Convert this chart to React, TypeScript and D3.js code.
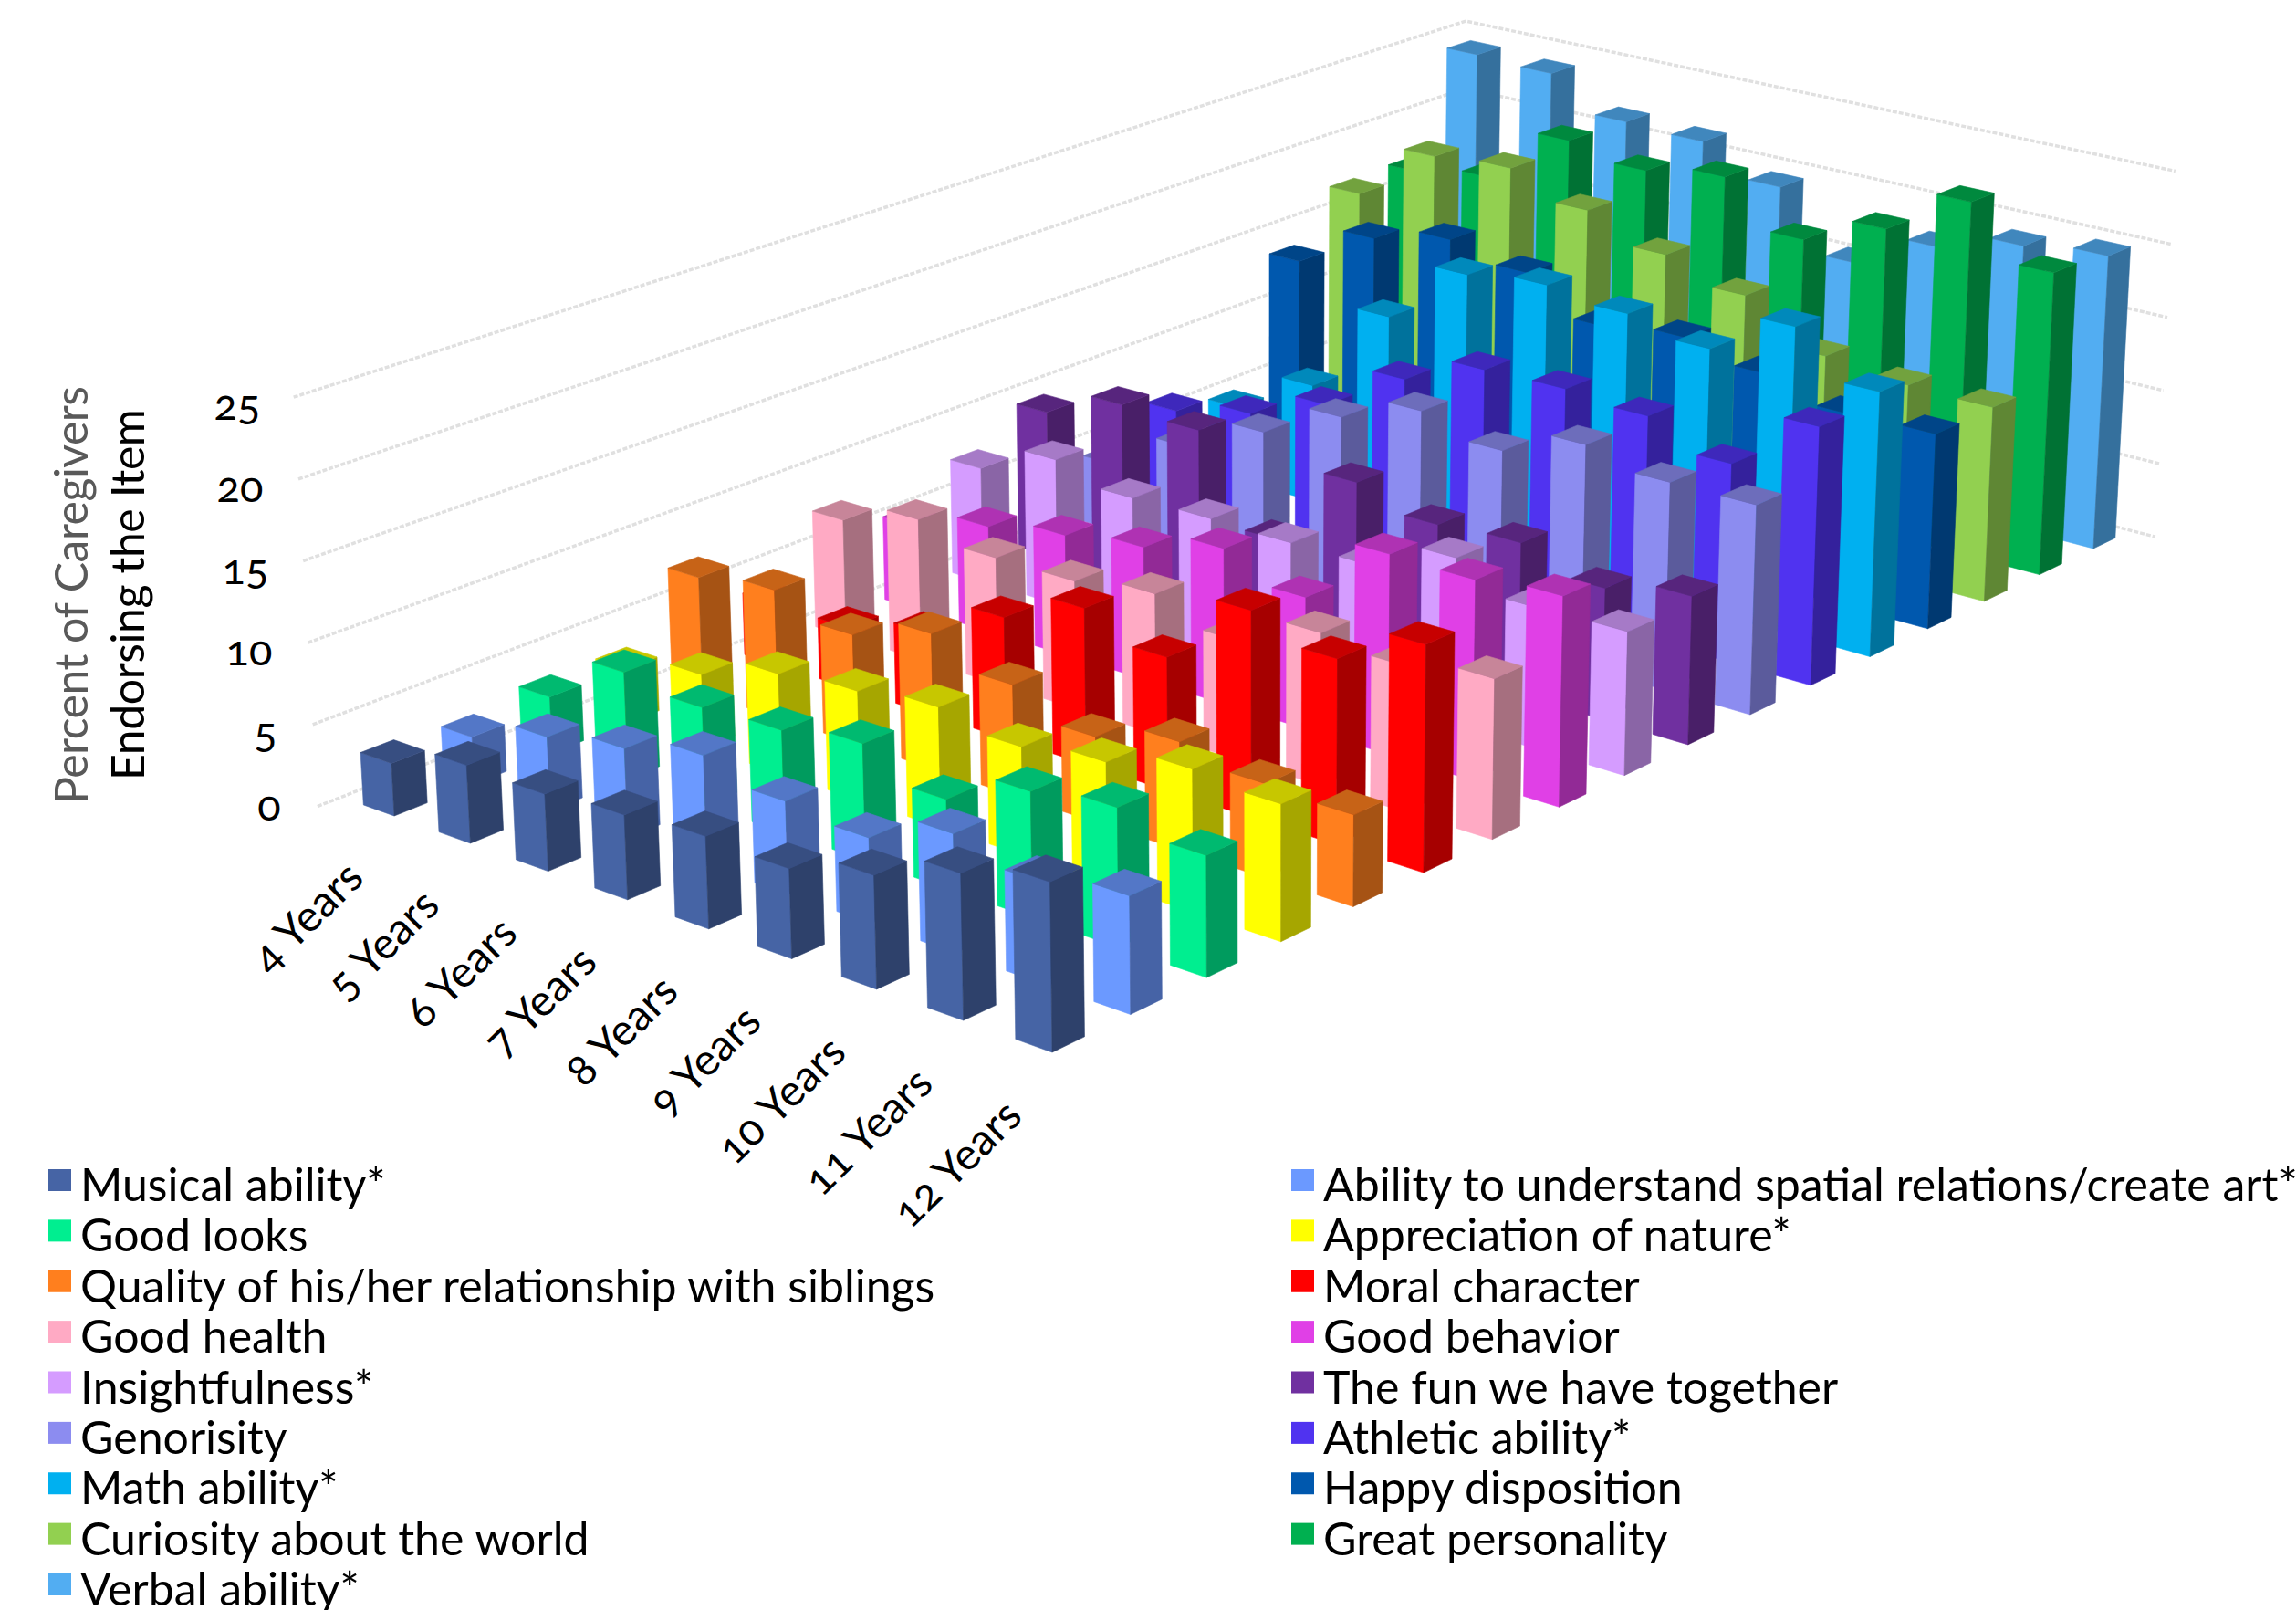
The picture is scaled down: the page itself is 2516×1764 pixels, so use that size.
import { useEffect, useRef } from 'react';
import * as d3 from 'd3';

const ages = ['4 Years', '5 Years', '6 Years', '7 Years', '8 Years', '9 Years', '10 Years', '11 Years', '12 Years'];
const yTicks = [0, 5, 10, 15, 20, 25];

const seriesNames = [
  'Musical ability*', 'Ability to understand spatial relations/create art*', 'Good looks', 'Appreciation of nature*',
  'Quality of his/her relationship with siblings', 'Moral character', 'Good health', 'Good behavior',
  'Insightfulness*', 'The fun we have together', 'Genorisity', 'Athletic ability*',
  'Math ability*', 'Happy disposition', 'Curiosity about the world', 'Great personality', 'Verbal ability*',
];
const seriesColors = [
  '#4664a5', '#6b99ff', '#00ee90', '#ffff00', '#ff7f1e', '#ff0000', '#ffaac4', '#e040e6',
  '#d59cff', '#7030a0', '#8c8cf0', '#5033f0', '#00b0f0', '#0058ae', '#92d050', '#00b050', '#52adf2',
];

// percent of caregivers per age, 4 to 12 years
const musical = [3.2, 4.7, 4.6, 5.0, 5.4, 5.2, 6.5, 8.3, 9.5];
const spatial = [2.9, 4.5, 5.4, 6.6, 5.5, 5.0, 6.9, 5.8, 6.7];
const looks = [3.5, 6.6, 6.0, 6.2, 7.0, 5.3, 7.4, 8.1, 7.0];
const nature = [3.4, 4.6, 6.2, 6.7, 7.3, 6.5, 7.2, 8.4, 8.0];
const siblings = [7.4, 8.1, 6.8, 8.4, 6.8, 5.2, 6.5, 5.6, 5.4];
const moral = [4.0, 3.9, 5.1, 7.6, 9.7, 8.2, 12.6, 11.2, 13.6];
const health = [7.6, 9.1, 8.1, 8.1, 8.8, 7.4, 9.4, 8.9, 9.7];
const behavior = [5.5, 6.9, 7.8, 8.5, 9.9, 8.3, 12.5, 12.4, 12.9];
const insight = [7.6, 9.6, 8.5, 8.6, 8.5, 8.5, 10.5, 8.8, 8.9];
const fun = [9.7, 11.6, 11.3, 5.5, 10.7, 9.4, 9.7, 8.3, 9.3];
const generosity = [4.5, 7.1, 9.5, 11.9, 13.7, 12.5, 14.3, 13.3, 13.3];
const athletic = [6.5, 7.7, 9.7, 12.8, 14.8, 14.9, 14.5, 12.8, 16.6];
const math = [5.1, 8.0, 14.1, 18.3, 18.9, 18.3, 17.3, 20.1, 17.2];
const happy = [13.8, 16.7, 17.9, 16.9, 14.5, 15.1, 14.0, 12.7, 12.8];
const curiosity = [17.1, 21.0, 21.4, 19.7, 17.9, 16.4, 13.6, 13.0, 12.9];
const personality = [17.2, 18.0, 21.9, 21.0, 21.8, 18.7, 20.7, 23.8, 20.3];
const verbal = [24.3, 24.1, 21.8, 21.6, 19.6, 15.5, 17.9, 19.3, 19.9];

const seriesValues = [
  musical, spatial, looks, nature, siblings, moral, health, behavior, insight,
  fun, generosity, athletic, math, happy, curiosity, personality, verbal,
];

const WIDTH = 2516;
const HEIGHT = 1764;
const FONT = 'Lato, "Open Sans", sans-serif';

// Floor plane: screen position of the four extreme bar corners
const Q00 = [432, 894];
const Q10 = [1153, 1153];
const Q11 = [2294, 601];
const Q01 = [1614, 424];
// Vanishing point of the verticals (very slight lean)
const VX = 1378;
const VY = 18500;

function buildHomography() {
  const dx1 = Q10[0] - Q11[0];
  const dx2 = Q01[0] - Q11[0];
  const sx = Q00[0] - Q10[0] + Q11[0] - Q01[0];
  const dy1 = Q10[1] - Q11[1];
  const dy2 = Q01[1] - Q11[1];
  const sy = Q00[1] - Q10[1] + Q11[1] - Q01[1];
  const den = dx1 * dy2 - dx2 * dy1;
  const g = (sx * dy2 - dx2 * sy) / den;
  const h = (dx1 * sy - sx * dy1) / den;
  return {
    a: Q10[0] - Q00[0] + g * Q10[0],
    b: Q01[0] - Q00[0] + h * Q01[0],
    c: Q00[0],
    d: Q10[1] - Q00[1] + g * Q10[1],
    e: Q01[1] - Q00[1] + h * Q01[1],
    f: Q00[1],
    g,
    h,
  };
}

const H = buildHomography();

// value axis: pixels at the depth where w = 1
const yScale = d3.scaleLinear().domain([0, 25]).range([0, 450]);
const ageScale = d3.scalePoint<string>().domain(ages).range([0, 1]);
const seriesScale = d3.scalePoint<string>().domain(seriesNames).range([0, 1]);
const ageStep = ageScale.step();
const seriesStep = seriesScale.step();

// u, v are floor coordinates (0..1), value is the height in percent
function project(u: number, v: number, value: number): [number, number] {
  const w = H.g * u + H.h * v + 1;
  const x = (H.a * u + H.b * v + H.c) / w;
  const y = (H.d * u + H.e * v + H.f) / w;
  const lift = yScale(value) / w;
  return [x + ((x - VX) * lift) / (VY - y), y - lift];
}

function shade(color: string, k: number): string {
  const c = d3.rgb(color);
  return d3.rgb(c.r * k, c.g * k, c.b * k).formatHex();
}

export default function App() {
  const svgRef = useRef<SVGSVGElement>(null);

  useEffect(() => {
    if (!svgRef.current) return;
    const svg = d3.select(svgRef.current);
    svg.selectAll('*').remove();
    svg.style('font-family', FONT);

    const line = d3.line();

    // Walls
    const uBack = -0.705 * ageStep;
    const uFront = 8.295 * ageStep;
    const vNear = -0.295 * seriesStep;
    const vFar = 16.705 * seriesStep;

    svg.append('g')
      .selectAll('path')
      .data(yTicks)
      .enter()
      .append('path')
      .attr('d', t => line([project(uBack, vNear, t), project(uBack, vFar, t), project(uFront, vFar, t)]))
      .attr('fill', 'none')
      .attr('stroke', '#e0e0e0')
      .attr('stroke-width', 3.5)
      .attr('stroke-dasharray', '5,2');

    // Y tick labels
    const tickX = [295, 291, 273, 269, 263, 260];
    svg.append('g')
      .selectAll('text')
      .data(yTicks)
      .enter()
      .append('text')
      .attr('x', (_, i) => tickX[i])
      .attr('y', t => project(uBack, vNear, t)[1] + (t === 0 ? 15 : 25))
      .attr('text-anchor', 'middle')
      .style('font-size', '47px')
      .style('font-variant-numeric', 'oldstyle-nums')
      .style('fill', '#000')
      .text(t => t);

    // Bars, painted back to front
    const bars: { age: string; name: string; color: string; value: number }[] = [];
    seriesNames.forEach((name, j) => {
      ages.forEach((age, i) => {
        bars.push({ age, name, color: seriesColors[j], value: seriesValues[j][i] });
      });
    });
    bars.sort((p, q) => {
      const a = (ageScale(p.age) as number) / ageStep - (seriesScale(p.name) as number) / seriesStep;
      const b = (ageScale(q.age) as number) / ageStep - (seriesScale(q.name) as number) / seriesStep;
      return a - b;
    });

    const barDepth = 0.41;
    const g = svg.append('g');
    bars.forEach(d => {
      const u = ageScale(d.age) as number;
      const v = seriesScale(d.name) as number;
      const u0 = u - barDepth * ageStep;
      const v1 = v + barDepth * seriesStep;
      const poly = (pts: [number, number][], fill: string) =>
        g.append('path').attr('d', line(pts) + 'Z').attr('fill', fill).attr('stroke', fill).attr('stroke-width', 0.6);
      // left face
      poly([project(u0, v, 0), project(u, v, 0), project(u, v, d.value), project(u0, v, d.value)], d.color);
      // right face
      poly([project(u, v, 0), project(u, v1, 0), project(u, v1, d.value), project(u, v, d.value)], shade(d.color, 0.65));
      // top face
      poly([project(u0, v, d.value), project(u, v, d.value), project(u, v1, d.value), project(u0, v1, d.value)], shade(d.color, 0.78));
    });

    // Age labels
    svg.append('g')
      .selectAll('text')
      .data(ages)
      .enter()
      .append('text')
      .attr('transform', d => {
        const [x, y] = project(ageScale(d) as number, vNear, 0);
        return `translate(${x - 5},${y + 60}) rotate(-44.5)`;
      })
      .attr('text-anchor', 'end')
      .style('font-size', '48px')
      .style('font-variant-numeric', 'oldstyle-nums')
      .style('fill', '#000')
      .text(d => d);

    // Axis titles
    svg.append('text')
      .attr('transform', 'translate(96,881) rotate(-90)')
      .attr('textLength', 458)
      .style('font-size', '50px')
      .style('fill', '#595959')
      .text('Percent of Caregivers');
    svg.append('text')
      .attr('transform', 'translate(158,855) rotate(-90)')
      .attr('textLength', 407)
      .style('font-size', '50px')
      .style('fill', '#000')
      .text('Endorsing the Item');

    // Legend, two columns filled row by row
    const legendRow = d3.scaleLinear().domain([0, 8]).range([1281, 1724]);
    const legend = svg.append('g')
      .selectAll('g')
      .data(seriesNames)
      .enter()
      .append('g')
      .attr('transform', (_, i) => `translate(${i % 2 === 0 ? 53 : 1415},${legendRow(Math.floor(i / 2))})`);
    legend.append('rect')
      .attr('width', 25)
      .attr('height', 24)
      .attr('fill', (_, i) => seriesColors[i]);
    legend.append('text')
      .attr('x', 35)
      .attr('y', 35)
      .style('font-size', '50px')
      .style('fill', '#000')
      .text(d => d);
  }, []);

  return (
    <svg
      ref={svgRef}
      width={WIDTH}
      height={HEIGHT}
      style={{ position: 'absolute', left: 0, top: 0, display: 'block', background: '#fff' }}
    ></svg>
  );
}
